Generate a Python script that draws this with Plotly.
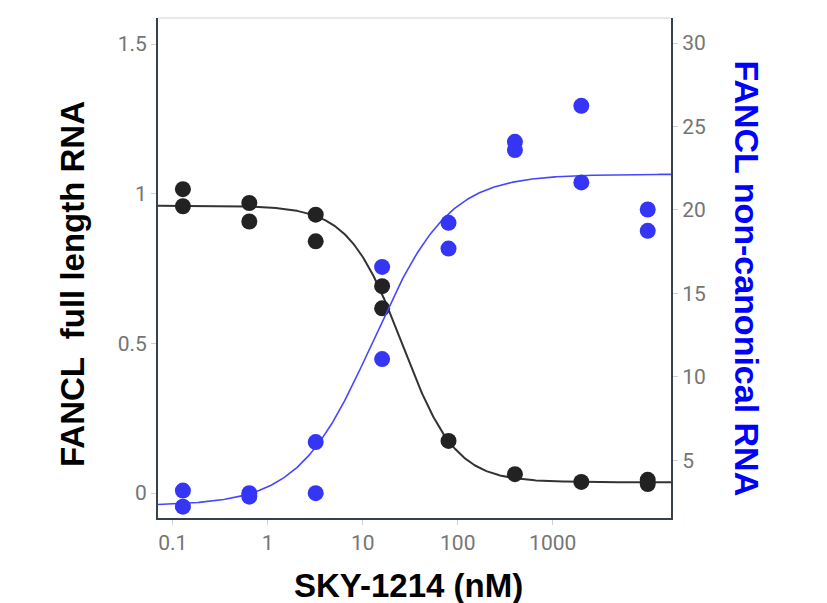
import numpy as np
import plotly.graph_objects as go

# ---- data ----
conc_nM = [0.128, 0.64, 3.2, 16, 80, 400, 2000, 10000]
full_len_rep1 = [1.015, 0.969, 0.930, 0.691, 0.174, 0.063, 0.037, 0.044]
full_len_rep2 = [0.958, 0.907, 0.841, 0.617, None, None, None, 0.030]
noncanon_rep1 = [3.19, 3.04, 6.10, 16.59, 19.23, 24.08, 26.24, 20.03]
noncanon_rep2 = [2.23, 2.83, 3.04, 11.07, 17.69, 23.59, 21.65, 18.75]

# 4-parameter logistic fit parameters
fit_full = dict(bottom=0.036, top=0.96, ec50=26.0, hill=1.55)
fit_nc = dict(bottom=2.3, top=22.14, ec50=13.0, hill=1.1)

x_ticks = [0.1, 1, 10, 100, 1000]
x_ticklabels = ["0.1", "1", "10", "100", "1000"]
y_ticks = [0, 0.5, 1, 1.5]
y_ticklabels = ["0", "0.5", "1", "1.5"]
y2_ticks = [5, 10, 15, 20, 25, 30]
y2_ticklabels = ["5", "10", "15", "20", "25", "30"]

x_range_log = [-1.155, 4.245]
y_range = [-0.0835, 1.587]
y2_range = [1.55, 31.5]


def inhib(x, p):
    return p["bottom"] + (p["top"] - p["bottom"]) / (1 + (x / p["ec50"]) ** p["hill"])


def stim(x, p):
    return p["bottom"] + (p["top"] - p["bottom"]) / (1 + (p["ec50"] / x) ** p["hill"])


xs = np.logspace(x_range_log[0], x_range_log[1], 400)

BLACK = "#222222"
BLUE = "#3535f5"
AXIS = "#37414b"
TICKC = "#757575"

fig = go.Figure()

fig.add_trace(go.Scatter(x=xs, y=inhib(xs, fit_full), mode="lines",
                         line=dict(color="#333333", width=2), yaxis="y", hoverinfo="skip"))
fig.add_trace(go.Scatter(x=xs, y=stim(xs, fit_nc), mode="lines",
                         line=dict(color="#4646ff", width=1.6), yaxis="y2", hoverinfo="skip"))

for ys in (full_len_rep1, full_len_rep2):
    fig.add_trace(go.Scatter(x=conc_nM, y=ys, mode="markers",
                             marker=dict(color=BLACK, size=16), yaxis="y"))
for ys in (noncanon_rep1, noncanon_rep2):
    fig.add_trace(go.Scatter(x=conc_nM, y=ys, mode="markers",
                             marker=dict(color=BLUE, size=16), yaxis="y2"))

tickfont = dict(family="Roboto", size=21, color=TICKC)

fig.update_layout(
    width=827, height=603,
    margin=dict(l=158, r=156, t=18, b=85),
    paper_bgcolor="white", plot_bgcolor="white",
    showlegend=False,
    xaxis=dict(type="log", range=x_range_log, tickvals=x_ticks, ticktext=x_ticklabels,
               showgrid=False, zeroline=False, showline=True, linecolor=AXIS, linewidth=2,
               ticks="outside", ticklen=5, tickcolor="#d0d0d0", tickwidth=1,
               tickfont=tickfont),
    yaxis=dict(range=y_range, tickvals=y_ticks, ticktext=y_ticklabels,
               showgrid=False, zeroline=False, showline=True, linecolor=AXIS, linewidth=2,
               ticks="outside", ticklen=5, tickcolor="#d0d0d0", tickwidth=1,
               tickfont=tickfont),
    yaxis2=dict(range=y2_range, tickvals=y2_ticks, ticktext=y2_ticklabels, overlaying="y",
                side="right", showgrid=False, zeroline=False, showline=True, linecolor=AXIS,
                linewidth=2, ticks="outside", ticklen=5, tickcolor="#d0d0d0", tickwidth=1,
                tickfont=tickfont),
)

fig.add_shape(type="line", xref="paper", yref="paper", x0=0, x1=1, y0=1, y1=1,
              line=dict(color="#e2e2e2", width=1.5))

title_font = dict(family="Liberation Sans, Arial", size=33, color="black")
fig.add_annotation(text="<b>FANCL  full length RNA</b>", xref="paper", yref="paper",
                   x=0, y=0.468, xshift=-86, textangle=-90, showarrow=False,
                   xanchor="center", yanchor="middle", font=title_font)
fig.add_annotation(text="<b>FANCL non-canonical RNA</b>", xref="paper", yref="paper",
                   x=1, y=0.479, xshift=76, textangle=90, showarrow=False,
                   xanchor="center", yanchor="middle",
                   font=dict(family="Liberation Sans, Arial", size=34, color="#0000ff"))
fig.add_annotation(text="<b>SKY-1214 (nM)</b>", xref="paper", yref="paper",
                   x=0.489, y=-0.134, showarrow=False, xanchor="center", yanchor="middle",
                   font=title_font)

fig.write_html("out.html")
